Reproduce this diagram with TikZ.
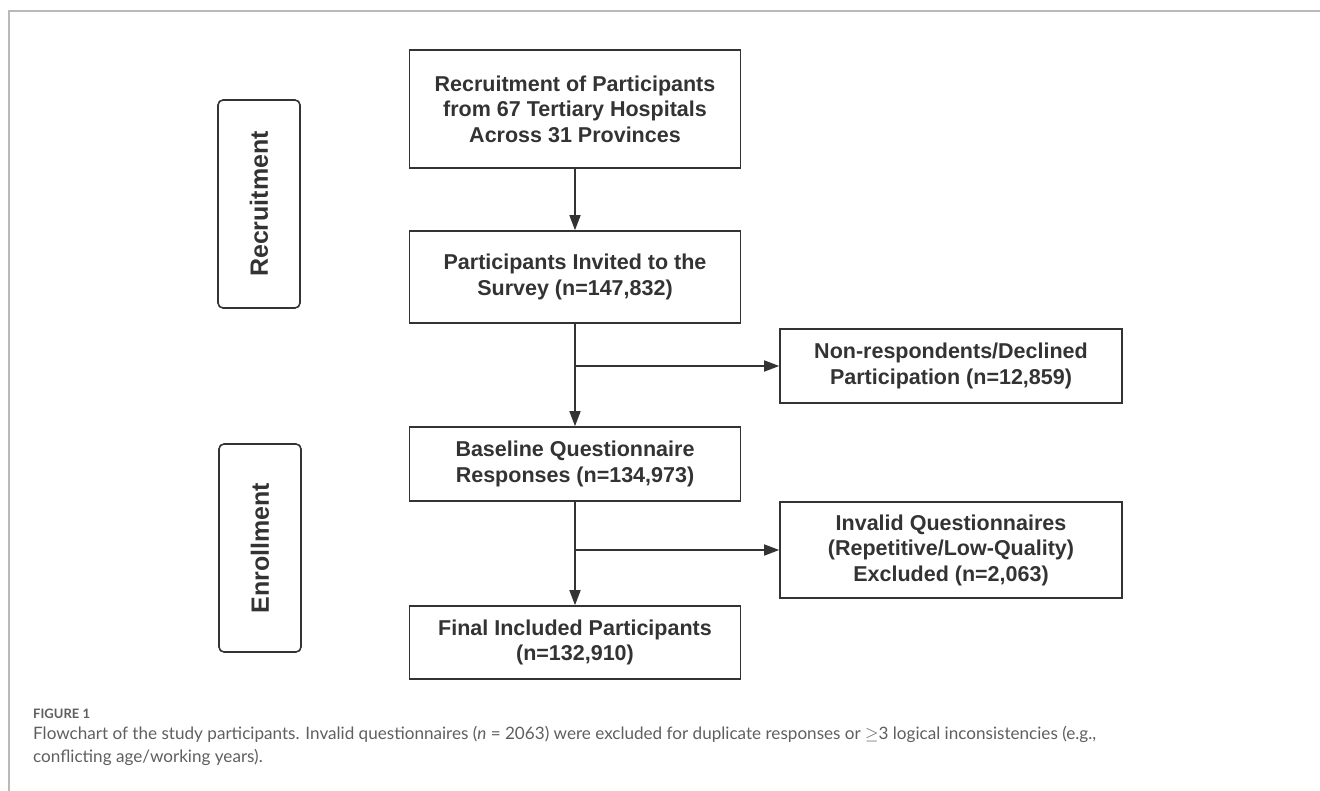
\documentclass[tikz,border=0pt]{standalone}
\usepackage{fontspec}
\setmainfont{Liberation Sans}
\newfontfamily\capfont{Lato}
\usetikzlibrary{arrows.meta,positioning}
\definecolor{boxline}{RGB}{51,51,51}
\definecolor{frameline}{RGB}{185,185,185}
\definecolor{captext}{RGB}{95,95,95}
\tikzset{
	flowbox/.style={
			draw=boxline, line width=1.6pt, minimum width=331pt, inner sep=0pt,
			align=center, text=boxline, font=\bfseries\fontsize{21.5}{25.5}\selectfont
		},
	sidebox/.style={flowbox, minimum width=342pt},
	stagebox/.style={
			draw=boxline, line width=1.6pt, rounded corners=5pt, rotate=90,
			minimum width=208pt, minimum height=82pt,
			text=boxline, font=\bfseries\fontsize{25}{30}\selectfont
		},
	flowarrow/.style={draw=boxline, line width=1.6pt, -{Triangle[length=15pt,width=11pt]}}
}

\begin{document}
\begin{tikzpicture}[x=1pt,y=-1pt]
	\useasboundingbox (0,0) rectangle (1320,791);

	% page frame
	\draw[frameline, line width=1.5pt] (1320,11) -- (9,11) -- (9,791);

	% stage labels
	\node[stagebox] (lblrec) at (259,204) {Recruitment};
	\node[stagebox] (lblenr) at (260,548) {Enrollment};

	% main column
	\node[flowbox, minimum height=118pt] (recruit) at (575,109)
		{Recruitment of Participants\\from 67 Tertiary Hospitals\\Across 31 Provinces};
	\node[flowbox, minimum height=92pt] (invited) at (575,277)
		{Participants Invited to the\\Survey (n=147,832)};
	\node[flowbox, minimum height=74pt] (baseline) at (575,464)
		{Baseline Questionnaire\\Responses (n=134,973)};
	\node[flowbox, minimum height=73pt] (final) at (575,642.5)
		{Final Included Participants\\(n=132,910)};

	% exclusions
	\node[sidebox, minimum height=74pt] (declined) at (951,366)
		{Non-respondents/Declined\\Participation (n=12,859)};
	\node[sidebox, minimum height=96pt] (invalid) at (951,550)
		{Invalid Questionnaires\\(Repetitive/Low-Quality)\\Excluded (n=2,063)};

	% arrows
	\coordinate (split1) at (invited.south |- declined.west);
	\coordinate (split2) at (baseline.south |- invalid.west);
	\draw[flowarrow] (recruit) -- (invited);
	\draw[flowarrow] (invited) -- (baseline);
	\draw[flowarrow] (split1) -- (declined);
	\draw[flowarrow] (baseline) -- (final);
	\draw[flowarrow] (split2) -- (invalid);

	% caption
	\node[anchor=base west, inner sep=0pt, text=captext, font=\capfont\bfseries\fontsize{13}{16}\selectfont] (figlabel) at (33,718) {FIGURE 1};
	\node[anchor=north west, inner sep=0pt, align=left, text=captext, font=\capfont\fontsize{17.1}{23.5}\selectfont] (caption) at (33,726)
		{Flowchart of the study participants. Invalid questionnaires (\textit{n} = 2063) were excluded for duplicate responses or $\geq$3 logical inconsistencies (e.g.,\\conflicting age/working years).};
\end{tikzpicture}
\end{document}
